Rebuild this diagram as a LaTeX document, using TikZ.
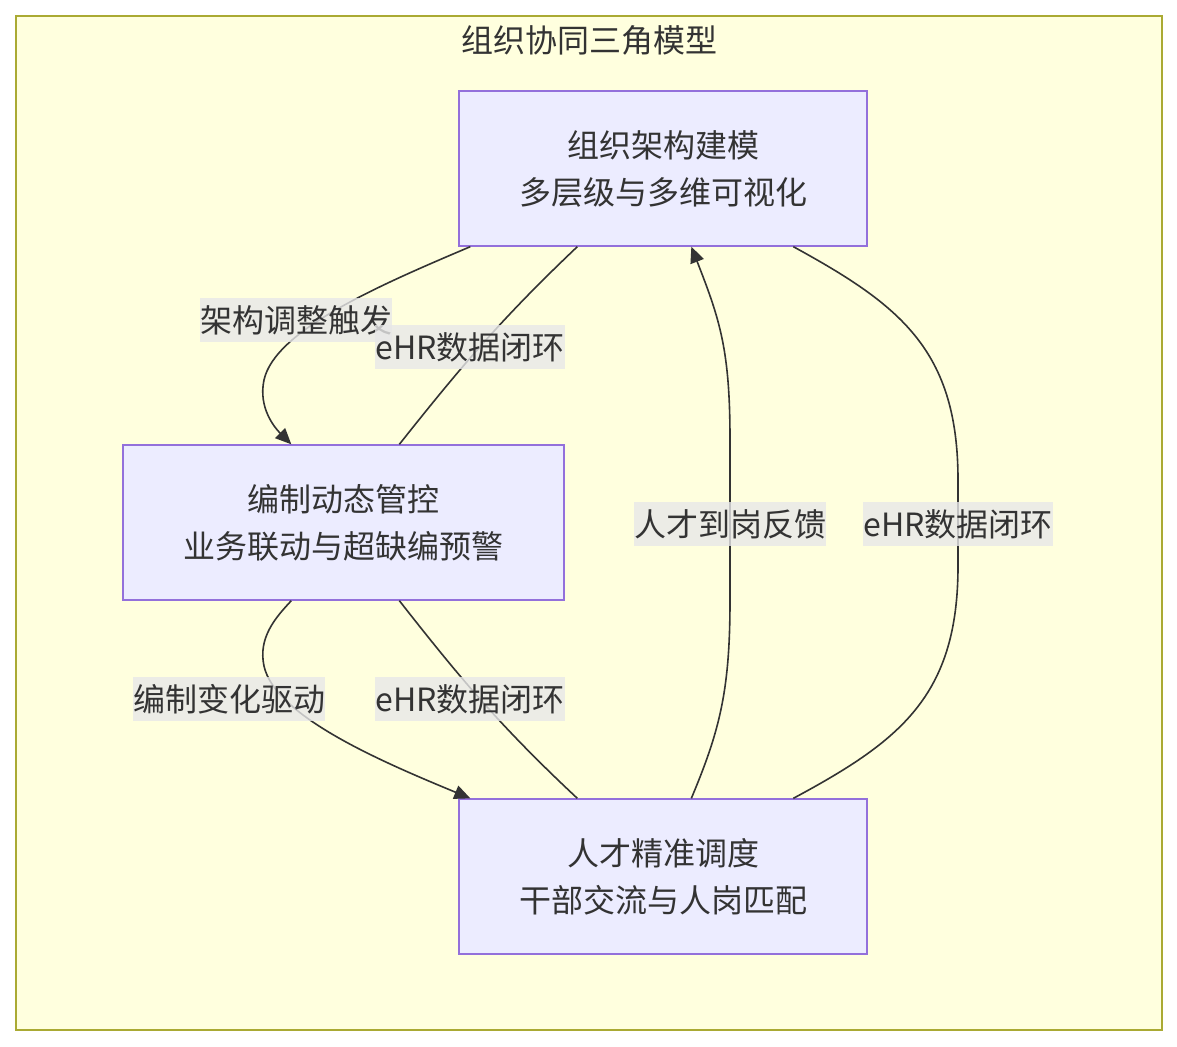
\documentclass[tikz,border=0pt]{standalone}
\usepackage{fontspec}
\setmainfont{Noto Sans CJK SC}
\usetikzlibrary{positioning,arrows.meta,calc}
\definecolor{triadback}{HTML}{FFFFDE}
\definecolor{triadcluster}{HTML}{AAAA33}
\definecolor{triadfill}{HTML}{ECECFF}
\definecolor{triadborder}{HTML}{9370DB}
\definecolor{triadtext}{HTML}{333333}
\definecolor{triadlabel}{HTML}{E8E8E8}

\begin{document}
\begin{tikzpicture}[
  x=0.75pt,y=-0.75pt,
  >={Triangle[length=12pt,width=10.5pt]},
  cluster/.style={draw=triadcluster,fill=triadback,line width=1pt},
  blk/.style={draw=triadborder,fill=triadfill,line width=1pt,text=triadtext,align=center,
    font=\fontsize{24}{35.25}\selectfont,minimum height=116.25pt,inner sep=0pt},
  edge lab/.style={fill=triadlabel,fill opacity=0.8,text opacity=1,text=triadtext,
    font=\fontsize{24}{30}\selectfont,inner xsep=0pt,inner ysep=0pt,minimum height=33pt},
  title lab/.style={text=triadtext,font=\fontsize{24}{30}\selectfont,inner sep=0pt},
  link/.style={draw=triadtext,line width=1.2pt}
]
\useasboundingbox (0,0) rectangle (1177,1046);

% Cluster frame and its title
\draw[cluster] (16,16) rectangle (1162,1030);
\node[title lab] (title) at (589,40) {组织协同三角模型};

% The three corners of the triangle
\node[blk,minimum width=306pt] (arch) at (663,168.5) {组织架构建模\\多层级与多维可视化};
\node[blk,minimum width=330.75pt] (quota) at (343.5,522.5) {编制动态管控\\业务联动与超缺编预警};
\node[blk,minimum width=306pt] (talent) at (663,876.5) {人才精准调度\\干部交流与人岗匹配};

% arch -> quota (trigger), and eHR link back
\draw[link,->] ($(arch.south west)+(12,0)$) .. controls (380,285) and (275,330) .. (264,380)
  .. controls (258,408) and (275,428) .. ($(quota.north west)+(169,0)$);
\draw[link] ($(arch.south west)+(119,0)$) .. controls (500,320) and (460,368) .. ($(quota.north west)+(277,0)$);

% quota -> talent (driver), and eHR link back
\draw[link,->] ($(quota.south west)+(169,0)$) .. controls (275,618) and (258,638) .. (264,666)
  .. controls (275,716) and (380,761) .. ($(talent.north west)+(12,0)$);
\draw[link] ($(quota.south west)+(277,0)$) .. controls (460,678) and (500,726) .. ($(talent.north west)+(119,0)$);

% talent -> arch (feedback), and eHR link on the right
\draw[link,->] ($(talent.north west)+(233,0)$) .. controls (720,730) and (730,690) .. (730,600)
  -- (730,440) .. controls (730,350) and (720,320) .. ($(arch.south west)+(233,0)$);
\draw[link] ($(arch.south west)+(335,0)$) .. controls (900,305) and (958,350) .. (958,480)
  -- (958,566) .. controls (958,696) and (900,741) .. ($(talent.north west)+(335,0)$);

% Edge labels
\node[edge lab] (l1) at (296,320) {架构调整触发};
\node[edge lab] (l2) at (470,347) {eHR数据闭环};
\node[edge lab] (l3) at (229,699) {编制变化驱动};
\node[edge lab] (l4) at (470,699) {eHR数据闭环};
\node[edge lab] (l5) at (730,524) {人才到岗反馈};
\node[edge lab] (l6) at (958,524) {eHR数据闭环};

\end{tikzpicture}
\end{document}
